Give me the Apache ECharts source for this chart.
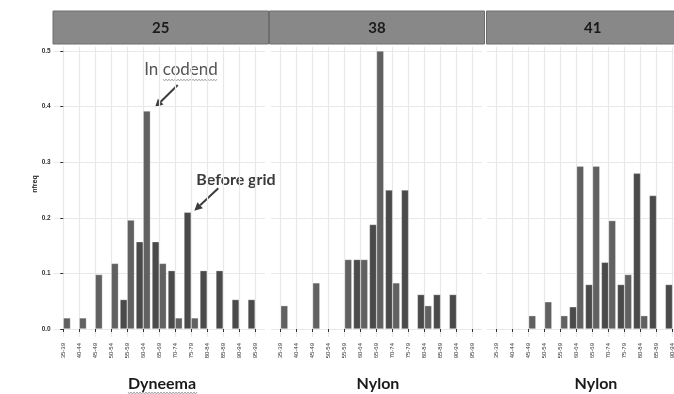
<!DOCTYPE html>
<html>
<head>
<meta charset="utf-8">
<script src="https://cdn.jsdelivr.net/npm/echarts@6/dist/echarts.min.js"></script>
<style>
  html, body { margin: 0; padding: 0; background: #fff; overflow: hidden; }
  /* the last panel runs past the right edge of the picture */
  #chart { width: 720px; height: 394px; }
</style>
</head>
<body>
<div id="chart"></div>
<script>
const lengthClasses = ['35-39', '40-44', '45-49', '50-54', '55-59', '60-64', '65-69',
  '70-74', '75-79', '80-84', '85-89', '90-94', '95-99'];
const yTicks = [0, 0.1, 0.2, 0.3, 0.4, 0.5];
const panelLabels = ['25', '38', '41'];
const netLabels = ['Dyneema', 'Nylon', 'Nylon'];

// left bar of each pair
const beforeGrid25 = [0, 0, 0, 0, 0.053, 0.157, 0.157, 0.105, 0.21, 0.105, 0.105, 0.053, 0.053];
const beforeGrid38 = [0, 0, 0, 0, 0, 0.125, 0.188, 0.25, 0.25, 0.062, 0.062, 0.062, 0];
const beforeGrid41 = [0, 0, 0, 0, 0, 0.04, 0.08, 0.12, 0.08, 0.28, 0.24, 0.08, 0.08];
// right bar of each pair
const inCodend25 = [0.02, 0.02, 0.098, 0.118, 0.196, 0.392, 0.118, 0.02, 0.02, 0, 0, 0, 0];
const inCodend38 = [0.042, 0, 0.083, 0, 0.125, 0.125, 0.5, 0.083, 0, 0.042, 0, 0, 0];
const inCodend41 = [0, 0, 0.024, 0.049, 0.024, 0.293, 0.293, 0.195, 0.098, 0.024, 0, 0, 0];

const beforeGrid = [beforeGrid25, beforeGrid38, beforeGrid41];
const inCodend = [inCodend25, inCodend38, inCodend41];

const chart = echarts.init(document.getElementById('chart'));

const gridLefts = [53.7, 271.1, 487.1];
const xIdx = lengthClasses.map((c, i) => i);
const toData = arr => arr.map((v, i) => [i, v > 0 ? v : null]);
const gridLine = { show: true, lineStyle: { color: '#e8e8e8', width: 1.2 } };

const grids = [], xAxes = [], yAxes = [], series = [];
gridLefts.forEach((left, p) => {
  grids.push({ left: left, top: 46.7, width: 211, height: 290.3 });
  xAxes.push({
    type: 'value', gridIndex: p, min: -0.6, max: 12.6,
    axisLine: { show: false },
    axisTick: { show: true, customValues: xIdx, length: 3, lineStyle: { color: '#333', width: 1 } },
    axisLabel: {
      customValues: xIdx, rotate: 90, margin: 6, fontSize: 6, color: '#333',
      fontFamily: 'Liberation Sans', formatter: v => lengthClasses[Math.round(v)]
    },
    splitLine: gridLine
  });
  yAxes.push({
    type: 'value', gridIndex: p, min: -0.0144, max: 0.5077,
    axisLine: { show: false },
    axisTick: { show: p === 0, customValues: yTicks, length: 3, lineStyle: { color: '#333' } },
    axisLabel: {
      show: p === 0, customValues: yTicks, margin: 3, fontSize: 6.5, color: '#333',
      fontFamily: 'Liberation Sans', fontWeight: 'bold', formatter: v => v.toFixed(1)
    },
    splitLine: gridLine
  });
  series.push({
    name: 'Before grid', type: 'bar', xAxisIndex: p, yAxisIndex: p,
    data: toData(beforeGrid[p]), barWidth: 7.2, barGap: '0%',
    itemStyle: { color: '#4a4a4a', borderColor: 'rgba(255,255,255,0.45)', borderWidth: 0.6 }
  });
  series.push({
    name: 'In codend', type: 'bar', xAxisIndex: p, yAxisIndex: p,
    data: toData(inCodend[p]), barWidth: 7.2, barGap: '0%',
    itemStyle: { color: '#616161', borderColor: 'rgba(255,255,255,0.45)', borderWidth: 0.6 }
  });
});

// strips, titles, annotations
const stripX = [[53, 268.5], [269.5, 484.5], [486.5, 701]];
const graphics = [];
stripX.forEach((s, p) => {
  graphics.push({
    type: 'rect', shape: { x: s[0], y: 11, width: s[1] - s[0], height: 33 },
    style: { fill: '#888888', stroke: '#6e6e6e', lineWidth: 1 }
  });
  graphics.push({
    type: 'text', x: (s[0] + s[1]) / 2 - (p === 2 ? 1 : 0), y: 28,
    style: { text: panelLabels[p], font: 'bold 15px Lato', fill: '#1a1a1a',
      align: 'center', verticalAlign: 'middle', textAlign: 'center', textVerticalAlign: 'middle' }
  });
});
const netX = [162, 378, 596];
netX.forEach((x, p) => {
  graphics.push({
    type: 'text', x: x, y: 384,
    style: { text: netLabels[p], font: 'bold 16px Lato', fill: '#1a1a1a',
      align: 'center', verticalAlign: 'middle', textAlign: 'center', textVerticalAlign: 'middle' }
  });
});
graphics.push({
  type: 'text', x: 35, y: 184, rotation: Math.PI / 2,
  style: { text: 'nfreq', font: 'bold 7px Liberation Sans', fill: '#1a1a1a',
    align: 'center', verticalAlign: 'middle', textAlign: 'center', textVerticalAlign: 'middle' }
});
graphics.push({
  type: 'text', x: 181, y: 70,
  style: { text: 'In codend', font: '17px Lato', fill: '#555',
    align: 'center', verticalAlign: 'middle', textAlign: 'center', textVerticalAlign: 'middle' }
});
graphics.push({
  type: 'text', x: 236, y: 180,
  style: { text: 'Before grid', font: 'bold 16px Lato', fill: '#3a3a3a',
    align: 'center', verticalAlign: 'middle', textAlign: 'center', textVerticalAlign: 'middle' }
});

function arrow(x1, y1, x2, y2) {
  const dx = x2 - x1, dy = y2 - y1, len = Math.sqrt(dx * dx + dy * dy);
  const ux = dx / len, uy = dy / len, hl = 8, hw = 4;
  const bx = x2 - ux * hl, by = y2 - uy * hl;
  graphics.push({ type: 'line', shape: { x1: x1, y1: y1, x2: bx, y2: by },
    style: { stroke: '#3c3c3c', lineWidth: 2 } });
  graphics.push({ type: 'polygon',
    shape: { points: [[x2, y2], [bx - uy * hw, by + ux * hw], [bx + uy * hw, by - ux * hw]] },
    style: { fill: '#3c3c3c' } });
}
arrow(177.7, 85, 155, 107.3);
arrow(218.3, 188.3, 194.3, 210.7);

function squiggle(x0, x1, y, color) {
  const pts = [];
  for (let x = x0, k = 0; x <= x1; x += 1.5, k++) pts.push([x, y + (k % 2 ? 1 : -1)]);
  graphics.push({ type: 'polyline', shape: { points: pts }, style: { stroke: color, lineWidth: 0.8, fill: null } });
}
squiggle(163, 218, 80, '#9a9a9a');
squiggle(128, 198, 393, '#8a8a8a');

chart.setOption({
  backgroundColor: '#fff',
  animation: false,
  grid: grids,
  xAxis: xAxes,
  yAxis: yAxes,
  series: series,
  graphic: graphics
});
</script>
</body>
</html>
